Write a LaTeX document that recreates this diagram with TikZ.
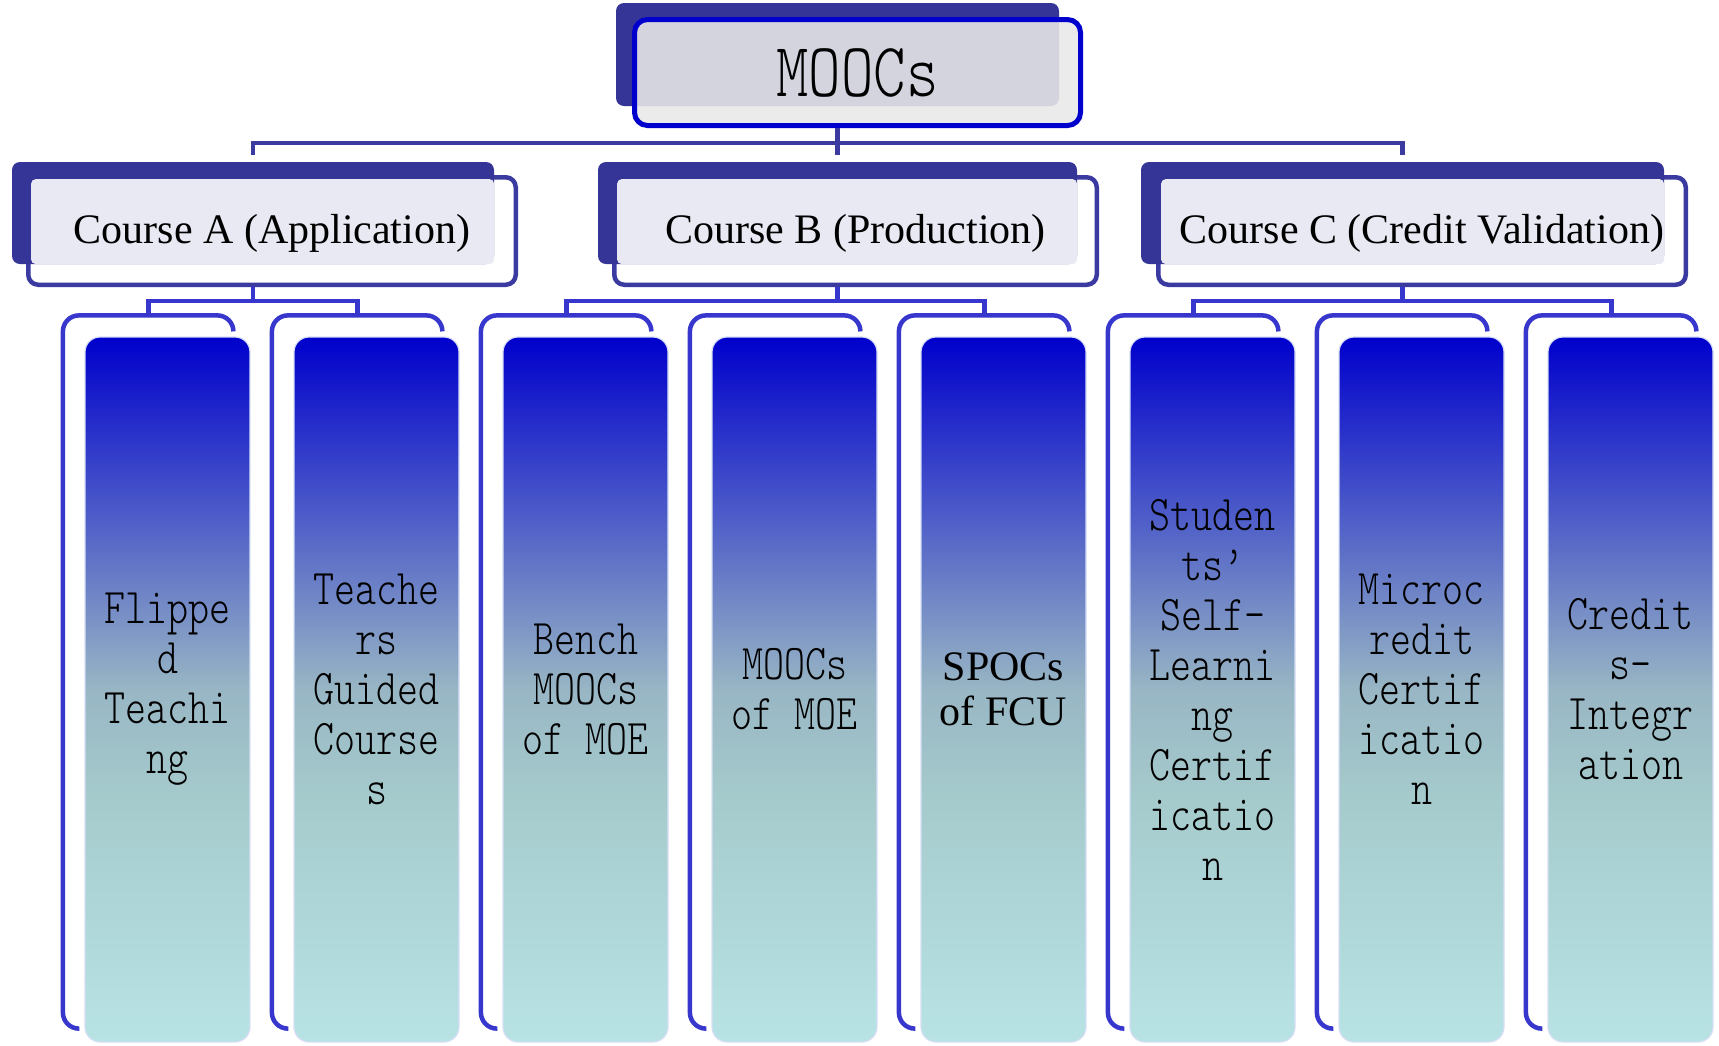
\documentclass[tikz,border=0pt]{standalone}
\usepackage{fontspec}
\setmainfont{Liberation Serif}
\newfontfamily\leaffont[FakeStretch=0.8]{lmmonolt10-regular.otf}
\definecolor{hdark}{RGB}{53,53,151}
\definecolor{hborder}{RGB}{58,58,160}
\definecolor{hlight}{RGB}{233,233,243}
\definecolor{mborder}{RGB}{0,0,204}
\definecolor{mfill}{RGB}{232,232,232}
\definecolor{mline}{RGB}{58,58,160}
\definecolor{lline}{RGB}{55,55,205}
\definecolor{leafedge}{RGB}{215,222,245}
\definecolor{lfbot}{RGB}{184,227,229}
\definecolor{lfa}{RGB}{165,202,204}
\definecolor{lfmid}{RGB}{152,182,196}
\definecolor{lftop}{RGB}{0,0,204}
\pgfdeclareverticalshading{leafshade}{100bp}{color(0bp)=(lfbot); color(25bp)=(lfbot); color(42.5bp)=(lfa); color(50bp)=(lfmid); color(75bp)=(lftop); color(100bp)=(lftop)}
\begin{document}
\begin{tikzpicture}[x=1pt,y=-1pt,
  hdarkbox/.style={rectangle, rounded corners=8pt, fill=hdark, inner sep=0pt},
  coursebox/.style={rectangle, rounded corners=10pt, draw=hborder, line width=4.5pt, fill=white, inner sep=0pt, minimum height=107.5pt},
  htext/.style={font=\fontsize{42}{45}\selectfont, inner sep=0pt},
  mainline/.style={draw=mline, line width=4.5pt},
  leafline/.style={draw=lline, line width=4.5pt},
  bracket/.style={draw=lline, line width=4.5pt, rounded corners=16pt},
  leafbox/.style={rectangle, rounded corners=15pt, minimum width=165pt, minimum height=705pt, shading=leafshade, draw=leafedge, line width=1.2pt, inner sep=0pt, align=center, font=\leaffont\fontsize{50}{50}\selectfont},
]
\path[use as bounding box] (0,0) rectangle (1719,1045);

% ---------- MOOCs ----------
\node[hdarkbox, minimum width=443pt, minimum height=103pt] (moocsdark) at (837.5,54.5) {};
\node[rectangle, rounded corners=13pt, fill=mfill, fill opacity=0.89, draw=mborder, draw opacity=1, text opacity=1, line width=5pt, minimum width=446pt, minimum height=106pt, inner sep=0pt, font=\leaffont\fontsize{77}{77}\selectfont] (moocs) at (857.5,72.5) {MOOCs};

% ---------- Courses ----------
\node[coursebox, minimum width=487.5pt] (A) at (272,231) {};
\node[hdarkbox, minimum width=482pt, minimum height=102pt] (Adark) at (253,213) {};
\fill[hlight, rounded corners=5pt] ([xshift=5pt,yshift=-4pt]A.north west) rectangle (Adark.south east);
\node[htext] (Atext) at ([yshift=-2pt]A.center) {Course A (Application)};

\node[coursebox, minimum width=482.5pt] (B) at (855.5,231) {};
\node[hdarkbox, minimum width=479pt, minimum height=102pt] (Bdark) at (837.5,213) {};
\fill[hlight, rounded corners=5pt] ([xshift=5pt,yshift=-4pt]B.north west) rectangle (Bdark.south east);
\node[htext] (Btext) at ([yshift=-2pt]B.center) {Course B (Production)};

\node[coursebox, minimum width=527.5pt] (C) at (1422,231) {};
\node[hdarkbox, minimum width=523pt, minimum height=102pt] (Cdark) at (1402.5,213) {};
\fill[hlight, rounded corners=5pt] ([xshift=5pt,yshift=-4pt]C.north west) rectangle (Cdark.south east);
\node[htext] (Ctext) at ([yshift=-2pt]C.center) {Course C (Credit Validation)};

% ---------- Leaves ----------
\node[leafbox] (L1) at (167.5,689.5) {Flippe\\d\\Teachi\\ng};
\node[leafbox] (L2) at (376.5,689.5) {Teache\\rs\\Guided\\Course\\s};
\node[leafbox] (L3) at (585.5,689.5) {Bench\\MOOCs\\of MOE};
\node[leafbox] (L4) at (794.5,689.5) {MOOCs\\of MOE};
\node[leafbox, font={\rmfamily\fontsize{42}{45}\selectfont}] (L5) at (1003.5,689.5) {SPOCs\\of FCU};
\node[leafbox] (L6) at (1212.5,689.5) {Studen\\ts’\\Self-\\Learni\\ng\\Certif\\icatio\\n};
\node[leafbox] (L7) at (1421.5,689.5) {Microc\\redit\\Certif\\icatio\\n};
\node[leafbox] (L8) at (1630.5,689.5) {Credit\\s-\\Integr\\ation};

\foreach \i in {1,...,8} {
  \draw[bracket] ([xshift=149pt,yshift=5pt]L\i.north west) -- ([xshift=149pt,yshift=21pt]L\i.north west)
     -- ([xshift=-21.5pt,yshift=21pt]L\i.north west) -- ([xshift=-21.5pt,yshift=14pt]L\i.south west)
     -- ([xshift=-5pt,yshift=14pt]L\i.south west);
  \coordinate (bk\i) at ([xshift=64pt,yshift=21pt]L\i.north west);
}

% ---------- Connectors ----------
\coordinate (bus1) at (837.5,143);
\draw[mainline] (moocs.south -| Bdark.north) -- ([yshift=7pt]Bdark.north);
\draw[mainline] ([yshift=7pt]Adark.north) |- (bus1) -| ([yshift=7pt]Cdark.north);

\coordinate (busA) at (253,301);
\coordinate (busB) at (837.5,301);
\coordinate (busC) at (1402.5,301);
\draw[leafline] (A.south -| busA) -- (busA);
\draw[leafline] (B.south -| busB) -- (busB);
\draw[leafline] (C.south -| busC) -- (busC);
\draw[leafline] (bk1) |- (busA) -| (bk2);
\draw[leafline] (bk3) |- (busB) -| (bk5);
\draw[leafline] (bk6) |- (busC) -| (bk8);
\end{tikzpicture}
\end{document}
